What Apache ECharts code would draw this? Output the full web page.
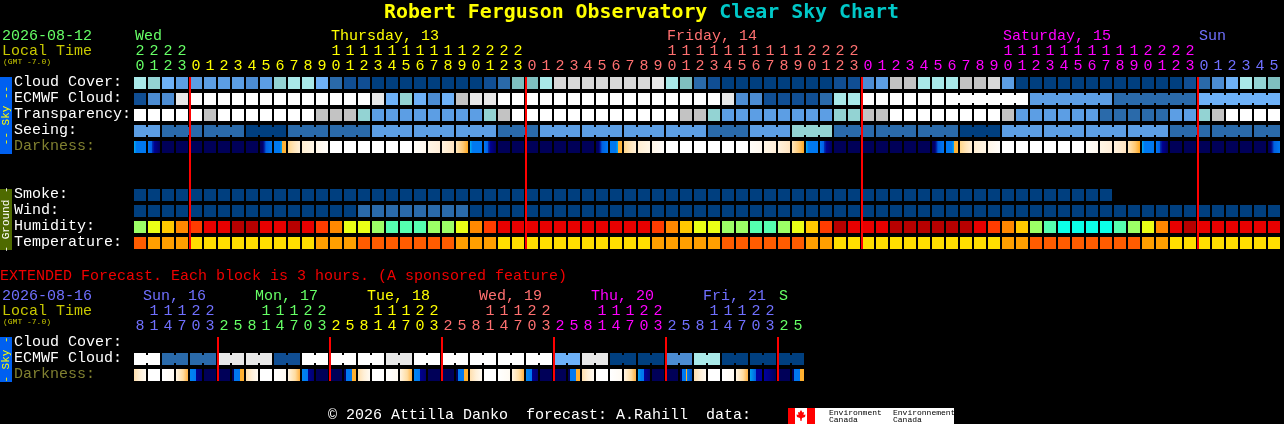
<!DOCTYPE html>
<html><head><meta charset="utf-8">
<style>html,body{margin:0;padding:0;background:#000;overflow:hidden}#c{width:1284px;height:424px}</style>
<script src="https://cdn.jsdelivr.net/npm/echarts@6/dist/echarts.min.js"></script>
</head><body><div id="c"></div>
<script>
// ---------- tick labels ----------
const hourOnes = '0123012345678901234567890123012345678901234567890123012345678901234567890123012345'.split('');
const hourTens = ['2','2','2','2',
 '','','','','','','','','','','1','1','1','1','1','1','1','1','1','1','2','2','2','2',
 '','','','','','','','','','','1','1','1','1','1','1','1','1','1','1','2','2','2','2',
 '','','','','','','','','','','1','1','1','1','1','1','1','1','1','1','2','2','2','2',
 '','','','','',''];
const hourDay = [0,0,0,0,
 1,1,1,1,1,1,1,1,1,1,1,1,1,1,1,1,1,1,1,1,1,1,1,1,
 2,2,2,2,2,2,2,2,2,2,2,2,2,2,2,2,2,2,2,2,2,2,2,2,
 3,3,3,3,3,3,3,3,3,3,3,3,3,3,3,3,3,3,3,3,3,3,3,3,
 4,4,4,4,4,4];
const dayNames = ['Wed','Thursday, 13','Friday, 14','Saturday, 15','Sun'];
const dayBlocks = [0,14,38,62,76];
const dayStarts = [4,28,52,76];

const extOnes = '814703258147032581470325814703258147032581470325'.split('');
const extTens = ['','1','1','1','2','2','','', '','1','1','1','2','2','','', '','1','1','1','2','2','','', '','1','1','1','2','2','','', '','1','1','1','2','2','','', '','1','1','1','2','2','',''];
const extDay = [0,0,0,0,0,0,
 1,1,1,1,1,1,1,1, 2,2,2,2,2,2,2,2, 3,3,3,3,3,3,3,3, 4,4,4,4,4,4,4,4, 5,5,5,5,5,5,5,5, 6,6];
const extDayNames = ['Sun, 16','Mon, 17','Tue, 18','Wed, 19','Thu, 20','Fri, 21','S'];
const extDayBlocks = [0,8,16,24,32,40,46];
const extDayStarts = [6,14,22,30,38,46];

const rowNames = ['Cloud Cover:','ECMWF Cloud:','Transparency:','Seeing:','Darkness:','','','Smoke:','Wind:','Humidity:','Temperature:'];
const extRowNames = ['Cloud Cover:','ECMWF Cloud:','Darkness:'];

// ---------- series values ----------
const cloudCover = [8,7,5,4,4,4,4,4,3,4,7,8,8,5,2,1,1,0,0,0,0,
 0,0,0,0,1,2,6,6,8,10,10,10,10,10,10,10,11,8,6,2,1,
 0,0,0,0,0,0,0,0,1,1,
 3,4,9,9,8,8,8,9,9,10,4,
 0,0,0,0,0,0,0,0,0,0,0,0,1,
 2,3,5,8,7,6];
const ecmwfCloud = [1,3,3,11,
 12,12,12,12,12,12,12,12,12,12,12,12,12,
 11,5,7,5,3,5,9,11,11,
 12,12,12,12,12,12,12,12,12,12,12,12,12,12,12,12,
 11,3,3,1,1,1,1,2,8,8,
 12,12,12,12,12,12,12,12,12,12,12,12,
 4,4,4,4,4,4,2,2,2,2,2,2,5,5,5,5,5,5];
const ecmwfSpans = [1,1,1,1,1,1,1,1,1,1,1,1,1,1,1,1,1,1,1,1,1,1,1,1,1,1,1,1,1,1,1,1,1,1,1,1,1,1,1,1,1,1,1,1,1,1,1,1,1,1,1,1,1,1,1,1,1,1,6,6,6,6];
const transparency = [12,12,12,12,12,9,12,12,12,12,12,12,12,9,9,9,7,
 4,4,4,4,4,4,4,4,7,9,
 12,12,12,12,12,12,12,12,12,12,12,12,9,9,7,
 4,4,4,4,4,4,4,4,7,7,9,9,
 12,12,12,12,12,12,12,12,9,
 4,4,4,4,4,4,2,2,2,2,2,4,4,7,9,12,12,12,12];
const seeing = [4,4, 2,2,2, 2,2,2, 0,0,0, 2,2,2, 2,2,2, 4,4,4, 4,4,4, 4,4,4, 2,2,2, 4,4,4, 4,4,4, 4,4,4, 4,4,4,
 2,2,2, 4,4,4, 7,7,7, 2,2,2, 2,2,2, 2,2,2, 0,0,0, 4,4,4, 4,4,4, 4,4,4, 4,4,4, 2,2,2, 2,2,2, 2,2];
const seeingSpans = [2,3,3,3,3,3,3,3,3,3,3,3,3,3,3,3,3,3,3,3,3,3,3,3,3,3,3,2];
const darknessKeys = 'abnnnnnnncdefgwwwwwwhijkabnnnnnnncdefgwwwwwwhijkabnnnnnnncdefgwwwwwwhijkabnnnnnnnc'.split('');
const smoke = [0,0,0,0,0,0,0,0,0,0,0,0,0,0,0,0,0,0,0,0,0,0,0,0,0,0,0,0,0,0,0,0,0,0,0,0,0,0,0,0,0,0,0,0,0,0,0,0,0,0,0,0,0,0,0,0,0,0,0,0,0,0,0,0,0,0,0,0,0,0];
const wind = [0,0,0,0,0,0,0,0,0,0,0,0,0,0,0,0,2,2,2,2,2,2,2,2,0,0,0,0,0,0,0,0,0,0,0,0,0,0,0,0,0,0,0,0,0,0,0,0,0,0,0,0,0,0,0,0,0,0,0,0,0,0,0,0,0,0,0,0,0,0,0,0,0,0,0,0,0,0,0,0,0,0];
const humidity = [2,3,4,5,6,7,7,8,8,7,7,8,7,6,5,3,3,2,1,1,1,
 2,2,3,5,6,7,7,7,7,7,7,7,7,7,7,7,6,5,4,3,3,2,2,1,1,2,3,4,6,8,7,
 7,7,8,8,8,8,8,8,7,6,5,4,2,1,0,0,0,0,1,2,3,5,7,8,7,7,7,7,7,7];
const temperature = [0,1,1,1,2,2,2,2,2,2,2,2,2,1,1,1,0,0,0,0,0,
 0,0,1,1,1,2,2,2,2,2,2,2,2,2,2,2,1,1,1,1,1,0,0,0,0,0,0,1,1,2,2,
 2,2,2,2,2,2,2,2,2,2,1,1,0,0,0,0,0,0,0,0,1,1,2,2,2,2,2,2,2,2];

const extEcmwf = [12,12,2,2,2,2,11,11,11,11,1,1,12,12,12,12,12,12,11,11,12,12,12,12,12,12,12,12,12,12,5,5,11,11,0,0,0,0,3,3,8,8,0,0,0,0,0,0];
const extSpans = [2,2,2,2,2,2,2,2,2,2,2,2,2,2,2,2,2,2,2,2,2,2,2,2];
const extDarknessKeys = 'EwvKPnnQEwvKPnnQEwvKPnnQEwvKPnnQEwvKRnnSEwvKTUnQ'.split('');

// ---------- colour scales ----------
const skyScale = ['#003f7f','#104e93','#2a6aaa','#4c8cd2','#5c9ee4','#6eb1f7','#7fbfbf','#93d3d3','#a9e9e9','#c3c3c3','#d8d8d8','#e8e8e8','#ffffff'];
const humidityScale = ['#0cffe8','#55ffb0','#9cff66','#eaff16','#ffc800','#ff8800','#ff3c00','#e80000','#b80000'];
const temperatureScale = ['#ff5c00','#ff9f00','#ffde00'];
const dayColors = ['#66ff66','#ffff00','#ff7070','#ff00ff','#7070ff'];
const extDayColors = ['#7070ff','#66ff66','#ffff00','#ff7070','#ff00ff','#7070ff','#66ff66'];
const grad = (...p) => new echarts.graphic.LinearGradient(0,0,1,0,p.map(q=>({offset:q[0],color:q[1]})));
const NAVY='#000058', BLUE='#0078f0', ORANGE='#ffb030';
const darknessFill = {
 a:grad([0,'#00b0f8'],[.12,'#0090f0'],[.22,BLUE],[1,BLUE]),
 b:grad([0,BLUE],[.3,'#0060e8'],[.36,'#0030b0'],[.55,'#000090'],[1,'#000060']),
 n:NAVY, w:'#ffffff',
 c:grad([0,NAVY],[.25,'#000070'],[.36,'#0020a0'],[.5,'#0060e0'],[1,BLUE]),
 d:grad([0,BLUE],[.5,BLUE],[.6,'#00a0f0'],[.66,'#00a0f0'],[.68,ORANGE],[1,'#ffb840']),
 e:grad([0,'#ffd68a'],[.5,'#ffe4b8'],[1,'#fff0d8']),
 f:grad([0,'#ffeed2'],[1,'#fff6e6']),
 g:grad([0,'#fff6e8'],[1,'#fffdfa']),
 h:grad([0,'#fffdf8'],[1,'#fff8ee']),
 i:grad([0,'#fff6e6'],[1,'#ffeed8']),
 j:grad([0,'#fff2de'],[1,'#ffe4c0']),
 k:grad([0,'#ffe6bc'],[.6,'#ffc870'],[1,'#ffa820']),
 E:grad([0,'#ffdfae'],[.5,'#fff0d8'],[1,'#fffaf2']),
 v:grad([0,'#ffffff'],[1,'#fffaf2']),
 K:grad([0,'#fff4e2'],[.6,'#ffdca0'],[1,'#ffb040']),
 P:grad([0,'#0084f2'],[.5,BLUE],[.5,'#000090'],[1,'#000070']),
 Q:grad([0,NAVY],[.17,NAVY],[.17,BLUE],[.67,BLUE],[.67,ORANGE],[1,ORANGE]),
 R:grad([0,'#00a0f0'],[.3,BLUE],[.5,BLUE],[.5,'#0000a0'],[1,'#000070']),
 S:grad([0,NAVY],[.17,NAVY],[.17,BLUE],[.5,BLUE],[.5,ORANGE],[.62,ORANGE],[.62,BLUE],[1,'#0050c0']),
 T:grad([0,'#00a0f0'],[.5,'#0060e0'],[.52,'#0000a0'],[1,'#0000a0']),
 U:grad([0,'#0000a0'],[.5,'#000080'],[1,NAVY])
};

// ---------- marks ----------
const FAMILY = '"Liberation Mono", monospace';
const FONT = '15px ' + FAMILY;
function cellItem(fillOf, joined){
  return function(params, api){
    const i = api.value(0), r = api.value(1), v = api.value(2);
    const c = api.coord([i, r]);
    const bw = api.size([1,0])[0], bh = api.size([0,1])[1];
    const fill = fillOf(params.dataIndex, v);
    const children = [{type:'rect', shape:{x:c[0]-bw/2+1, y:c[1]-bh/2+2, width:bw-2, height:bh-4}, style:{fill}}];
    if (joined && joined[i]) {
      children.push({type:'rect', shape:{x:c[0]+bw/2-1, y:c[1]-bh/2+4, width:2, height:bh-8}, style:{fill}});
    }
    return {type:'group', children};
  };
}
function lineItem(rows){
  return function(params, api){
    const i = api.value(0);
    const top = api.coord([i,0]), bot = api.coord([i,rows-1]);
    const bw = api.size([1,0])[0], bh = api.size([0,1])[1];
    return {type:'rect', shape:{x:top[0]-bw/2, y:top[1]-bh/2+2, width:2, height:bot[1]-top[1]+bh-4}, style:{fill:'#ff0000'}};
  };
}
function dayItem(names, colors, pad){
  return function(params, api){
    const i = api.value(0), c = api.coord([i,0]), bw = api.size([1,0])[0];
    const t = names[params.dataIndex];
    return {type:'text', x:c[0]-bw/2+(t.length>1?pad:2), y:params.coordSys.y-39,
      style:{text:t, fill:colors[params.dataIndex], font:FONT, align:'left', verticalAlign:'middle'}};
  };
}
function spansToJoin(spans){
  const j=[]; spans.forEach(n=>{for(let k=0;k<n;k++) j.push(k<n-1);}); return j;
}
function rowSeries(name, values, row, gridIdx, fillOf, join){
  return {type:'custom', name, xAxisIndex:gridIdx*2, yAxisIndex:gridIdx, coordinateSystem:'cartesian2d',
    data:values.map((v,i)=>[i,row,typeof v==='number'?v:0]), renderItem:cellItem(fillOf, join), silent:true, z:2, clip:false};
}
const skyFill = (idx,v)=>skyScale[v];
const axisBase = {axisLine:{show:false}, axisTick:{show:false}, splitLine:{show:false}};
function xAxisFor(grid, data, colorOf, offset){
  return Object.assign({}, axisBase, {type:'category', gridIndex:grid, position:'top', offset, data, boundaryGap:true,
    axisLabel:{interval:0, margin:1, fontFamily:FAMILY, fontSize:15,
      color:(v,i)=>colorOf(i), hideOverlap:false}});
}
function yAxisFor(grid, data){
  return Object.assign({}, axisBase, {type:'category', gridIndex:grid, inverse:true, data,
    axisLabel:{interval:0, align:'left', verticalAlign:'bottom', lineHeight:2, margin:119, fontFamily:FAMILY, fontSize:15,
      color:v=>v==='Darkness:'?'#808030':'#ffffff'}});
}
function txt(x,y,text,fill,size,extra){
  return Object.assign({type:'text', x, y, style:{text, fill, font:(size||15)+'px '+FAMILY, align:'left', verticalAlign:'middle'}}, extra||{});
}
function side(x,y,w,h,bg,text,fg){
  return [
    {type:'rect', shape:{x,y,width:w,height:h}, style:{fill:bg}},
    {type:'text', x:x+w/2, y:y+h/2, rotation:Math.PI/2,
      style:{text, fill:fg, font:'11px '+FAMILY, align:'center', verticalAlign:'middle'}}
  ];
}
const TITLE_FONT = {fontFamily:'"DejaVu Sans Mono", monospace', fontWeight:'bold', fontSize:19.9};
const option = {
  backgroundColor:'#000', animation:false,
  title:{left:384, top:3, padding:0,
    text:'{a|Robert Ferguson Observatory }{b|Clear Sky Chart}',
    textStyle:{rich:{
      a:Object.assign({color:'#ffff00'},TITLE_FONT),
      b:Object.assign({color:'#00c8c8'},TITLE_FONT)}}},
  grid:[
    {left:133, top:75, width:1148, height:176},
    {left:133, top:335, width:672, height:48}
  ],
  xAxis:[
    xAxisFor(0, hourOnes, i=>dayColors[hourDay[i]], 0),
    xAxisFor(0, hourTens, i=>dayColors[hourDay[i]], 15),
    xAxisFor(1, extOnes, i=>extDayColors[extDay[i]], 0),
    xAxisFor(1, extTens, i=>extDayColors[extDay[i]], 15)
  ],
  yAxis:[ yAxisFor(0,rowNames), yAxisFor(1,extRowNames) ],
  series:[
    rowSeries('Cloud Cover', cloudCover, 0, 0, skyFill),
    rowSeries('ECMWF Cloud', ecmwfCloud, 1, 0, skyFill, spansToJoin(ecmwfSpans)),
    rowSeries('Transparency', transparency, 2, 0, skyFill),
    rowSeries('Seeing', seeing, 3, 0, skyFill, spansToJoin(seeingSpans)),
    rowSeries('Darkness', darknessKeys, 4, 0, idx=>darknessFill[darknessKeys[idx]]),
    rowSeries('Smoke', smoke, 7, 0, skyFill),
    rowSeries('Wind', wind, 8, 0, skyFill),
    rowSeries('Humidity', humidity, 9, 0, (idx,v)=>humidityScale[v]),
    rowSeries('Temperature', temperature, 10, 0, (idx,v)=>temperatureScale[v]),
    {type:'custom', name:'Day start', xAxisIndex:0, yAxisIndex:0, data:dayStarts.map(i=>[i,0]), renderItem:lineItem(rowNames.length), z:5, silent:true, clip:false},
    {type:'custom', name:'Days', xAxisIndex:0, yAxisIndex:0, data:dayBlocks.map(i=>[i,0]), renderItem:dayItem(dayNames, dayColors, 2), z:5, silent:true, clip:false},
    rowSeries('Ext ECMWF Cloud', extEcmwf, 1, 1, skyFill, spansToJoin(extSpans)),
    rowSeries('Ext Darkness', extDarknessKeys, 2, 1, idx=>darknessFill[extDarknessKeys[idx]]),
    {type:'custom', name:'Ext day start', xAxisIndex:2, yAxisIndex:1, data:extDayStarts.map(i=>[i,0]), renderItem:lineItem(extRowNames.length), z:5, silent:true, clip:false},
    {type:'custom', name:'Ext days', xAxisIndex:2, yAxisIndex:1, data:extDayBlocks.map(i=>[i,0]), renderItem:dayItem(extDayNames, extDayColors, 10), z:5, silent:true, clip:false}
  ],
  graphic:{elements:[
    txt(2,36,'2026-08-12','#66ff66'),
    txt(2,51,'Local Time','#c8c800'),
    txt(3,62,'(GMT -7.0)','#c8c800',8),
    ...side(0,77,12,77,'#0060f0','-- Sky --','#ffff00'),
    ...side(0,189,12,61,'#4e6a00','- Ground -','#ffffff'),
    txt(0,276,'EXTENDED Forecast. Each block is 3 hours. (A sponsored feature)','#f00000'),
    txt(2,296,'2026-08-16','#7070ff'),
    txt(2,311,'Local Time','#c8c800'),
    txt(3,322,'(GMT -7.0)','#c8c800',8),
    ...side(0,337,12,45,'#0060f0','- Sky -','#ffff00'),
    txt(328,415,'\u00a9 2026 Attilla Danko  forecast: A.Rahill  data:','#ffffff'),
    {type:'rect', shape:{x:788,y:408,width:166,height:16}, style:{fill:'#ffffff'}},
    {type:'rect', shape:{x:788,y:408,width:7,height:16}, style:{fill:'#ff0000'}},
    {type:'rect', shape:{x:807,y:408,width:8,height:16}, style:{fill:'#ff0000'}},
    {type:'polygon', shape:{points:[[801,410],[802.5,412.5],[804,412],[803.5,415],[805.5,414.5],[805,417],[802,418],[801.5,421],[800.5,421],[800,418],[797,417],[796.5,414.5],[798.5,415],[798,412],[799.5,412.5]]}, style:{fill:'#ff0000'}},
    txt(829,412.5,'Environment','#000000',8),
    txt(829,420,'Canada','#000000',8),
    txt(893,412.5,'Environnement','#000000',8),
    txt(893,420,'Canada','#000000',8)
  ]}
};
const chart = echarts.init(document.getElementById('c'), null, {renderer:'canvas', width:1284, height:424});
chart.setOption(option);
</script>
</body></html>
